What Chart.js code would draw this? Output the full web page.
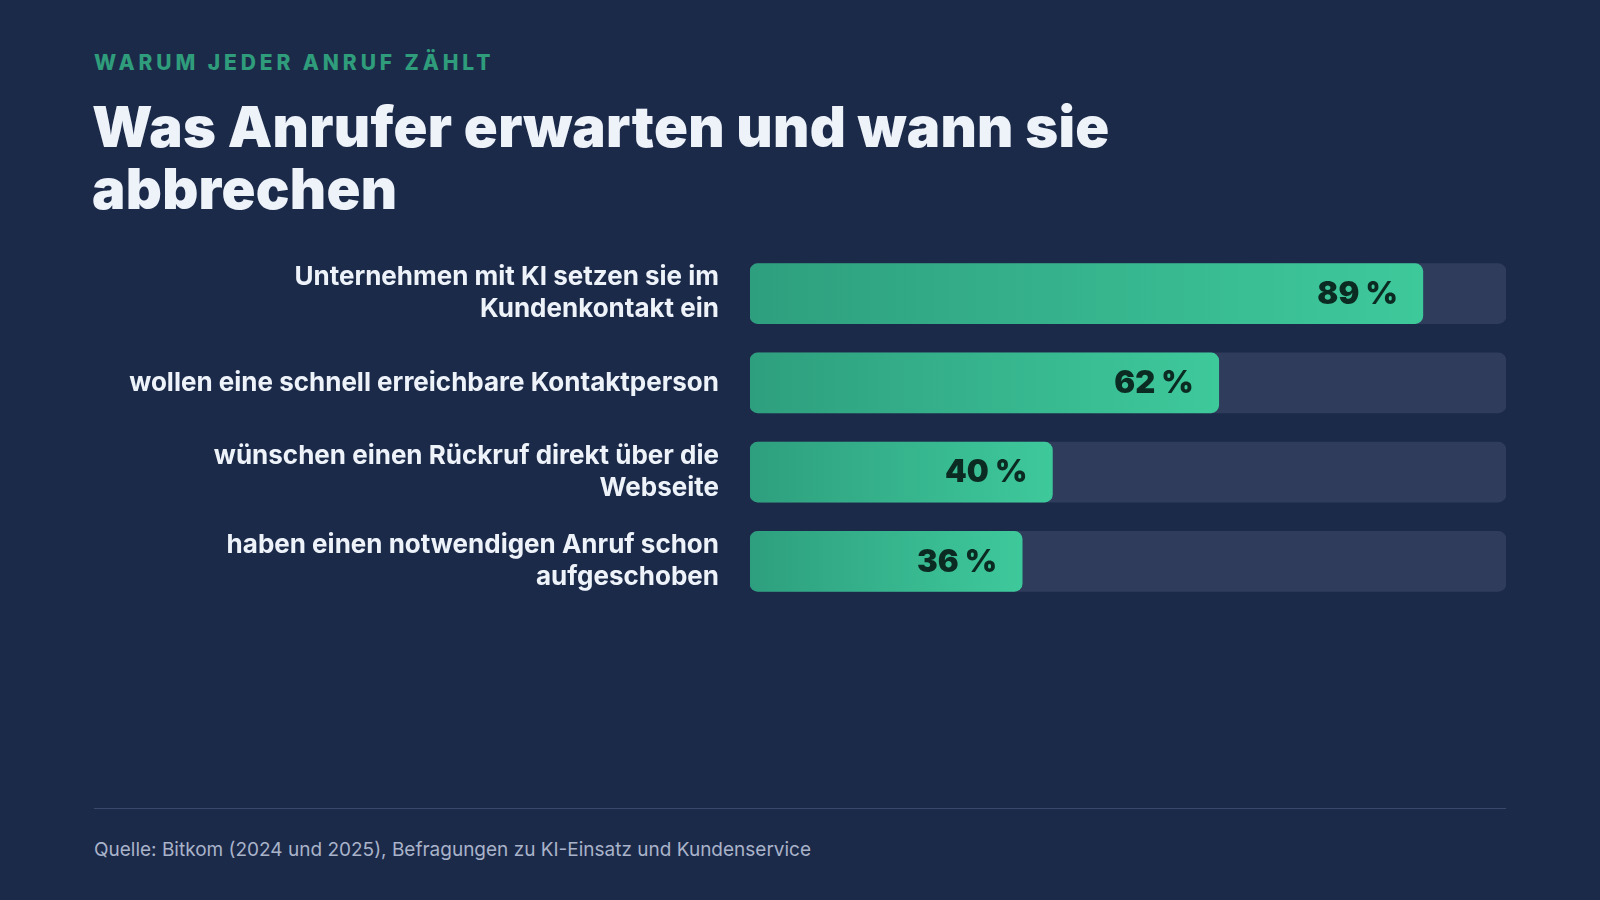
<!DOCTYPE html>
<html lang="de">
<head>
<meta charset="utf-8">
<script src="https://cdn.jsdelivr.net/npm/chart.js@4.4.1/dist/chart.umd.min.js"></script>
<style>
  html, body { margin: 0; padding: 0; }
  body {
    width: 1600px; height: 900px; overflow: hidden;
    background: #1c2a4a;
    font-family: Inter, "Noto Sans", sans-serif;
    position: relative;
  }
  .eyebrow {
    position: absolute; left: 94px; top: 50px;
    color: #2f9d7b; font-size: 21px; font-weight: 800;
    letter-spacing: 3.9px;
  }
  h1 {
    position: absolute; left: 92px; top: 96px; margin: 0;
    color: #eef3fa; font-size: 56px; font-weight: 900;
    line-height: 62px; letter-spacing: 0.3px;
  }
  .chart-box {
    position: absolute; left: 94px; top: 249px;
    width: 1412px; height: 357px;
  }
  .rule {
    position: absolute; left: 94px; top: 808px; width: 1412px; height: 1px;
    background: #38496b;
  }
  .source {
    position: absolute; left: 94px; top: 838px;
    color: #a9b3c9; font-size: 19px;
  }
</style>
</head>
<body>
<div class="eyebrow">WARUM JEDER ANRUF ZÄHLT</div>
<h1>Was Anrufer erwarten und wann sie<br>abbrechen</h1>
<div class="chart-box"><canvas id="barChart"></canvas></div>
<div class="rule"></div>
<div class="source">Quelle: Bitkom (2024 und 2025), Befragungen zu KI-Einsatz und Kundenservice</div>

<script>
const categories = [
    ['Unternehmen mit KI setzen sie im', 'Kundenkontakt ein'],
    'wollen eine schnell erreichbare Kontaktperson',
    ['wünschen einen Rückruf direkt über die', 'Webseite'],
    ['haben einen notwendigen Anruf schon', 'aufgeschoben'],
];
const shares = [89, 62, 40, 36];
const trackValues = [100, 100, 100, 100];

// bar fill: gradient from bar start to bar end
function barGradient(context) {
    const chart = context.chart;
    const x = chart.scales.x;
    if (!chart.chartArea || !x) return '#34b58c';
    const v = context.raw;
    const g = chart.ctx.createLinearGradient(x.getPixelForValue(0), 0, x.getPixelForValue(v), 0);
    g.addColorStop(0, '#2e9f7e');
    g.addColorStop(1, '#3ec99b');
    return g;
}

const valueLabels = {
    id: 'valueLabels',
    afterDatasetsDraw(chart) {
        const ctx = chart.ctx;
        const meta = chart.getDatasetMeta(0);
        ctx.save();
        ctx.font = '900 31px Inter, sans-serif';
        ctx.fillStyle = '#0b2a22';
        ctx.textAlign = 'right';
        ctx.textBaseline = 'middle';
        meta.data.forEach((bar, i) => {
            ctx.fillText(shares[i] + ' %', bar.x - 25, bar.y + 1);
        });
        ctx.restore();
    }
};

new Chart(document.getElementById('barChart'), {
    type: 'bar',
    data: {
        labels: categories,
        datasets: [
            {
                label: 'Anteil',
                data: shares,
                backgroundColor: barGradient,
                borderRadius: 8,
                borderSkipped: false,
                barThickness: 60,
                order: 0,
            },
            {
                label: 'Gesamt',
                data: trackValues,
                backgroundColor: '#2f3c5c',
                borderRadius: 8,
                borderSkipped: false,
                barThickness: 60,
                order: 1,
            },
        ],
    },
    options: {
        indexAxis: 'y',
        responsive: true,
        maintainAspectRatio: false,
        animation: false,
        layout: { padding: 0 },
        datasets: { bar: { grouped: false } },
        plugins: {
            legend: { display: false },
            tooltip: { enabled: false },
        },
        scales: {
            x: {
                min: 0,
                max: 100,
                display: false,
            },
            y: {
                grid: { display: false, drawTicks: false },
                border: { display: false },
                afterFit(scale) {
                    scale.width = 656;
                    scale.paddingTop = 0;
                    scale.paddingBottom = 0;
                },
                ticks: {
                    padding: 31,
                    color: '#eef3fa',
                    font: { family: 'Inter, sans-serif', size: 26, weight: '650', lineHeight: 1.23 },
                },
            },
        },
    },
    plugins: [valueLabels],
});
</script>
</body>
</html>
